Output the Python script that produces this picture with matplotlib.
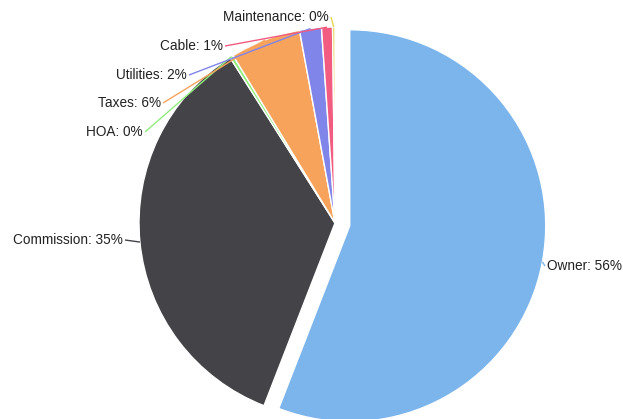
import numpy as np
import matplotlib
matplotlib.use("Agg")
import matplotlib.pyplot as plt

# ---- data ----
categories = ["Owner", "Commission", "HOA", "Taxes", "Utilities", "Cable", "Maintenance"]
values = [55.9, 35.1, 0.3, 5.8, 1.8, 0.9, 0.2]
colors = ["#7cb5ec", "#434348", "#90ed7d", "#f7a35c", "#8085e9", "#f15c80", "#e4d354"]
explode = [0.0765, 0, 0, 0, 0, 0, 0]

# ---- layout (pixel coords of the figure) ----
W, H = 623, 419
CX, CY, R = 335, 223, 196
# label anchor (px) and alignment
label_anchor = {
    "Owner": (547, 266, "left"),
    "Commission": (123, 240, "right"),
    "HOA": (143, 132, "right"),
    "Taxes": (161, 103, "right"),
    "Utilities": (187, 75, "right"),
    "Cable": (223, 46, "right"),
    "Maintenance": (329, 17, "right"),
}

def px2d(x, y):
    return (x - CX) / R, (CY - y) / R

fig = plt.figure(figsize=(W / 100, H / 100), dpi=100)
ax = fig.add_axes([0, 0, 1, 1])

wedges, _ = ax.pie(values, colors=colors, explode=explode, startangle=90,
                   counterclock=False, radius=1.0,
                   wedgeprops=dict(edgecolor="white", linewidth=1.0))

ax.set_xlim(-CX / R, (W - CX) / R)
ax.set_ylim(-(H - CY) / R, CY / R)
ax.set_aspect("equal", adjustable="box")
ax.axis("off")

total = float(sum(values))
for w, name, val, col in zip(wedges, categories, values, colors):
    mid = np.deg2rad((w.theta1 + w.theta2) / 2.0)
    cx, cy = w.center
    ex, ey = cx + np.cos(mid), cy + np.sin(mid)
    lx, ly, ha = label_anchor[name]
    tx, ty = px2d(lx, ly)
    gap = 2 / R
    sx = tx + gap if ha == "right" else tx - gap
    ax.plot([sx, ex], [ty, ey], color=col, lw=1.0, solid_capstyle="butt")
    ax.text(tx, ty, f"{name}: {round(val / total * 100):.0f}%", ha=ha, va="center",
            fontsize=9.8, color="#222222", family=["Liberation Sans", "DejaVu Sans"])

fig.savefig("out.png", dpi=100)
